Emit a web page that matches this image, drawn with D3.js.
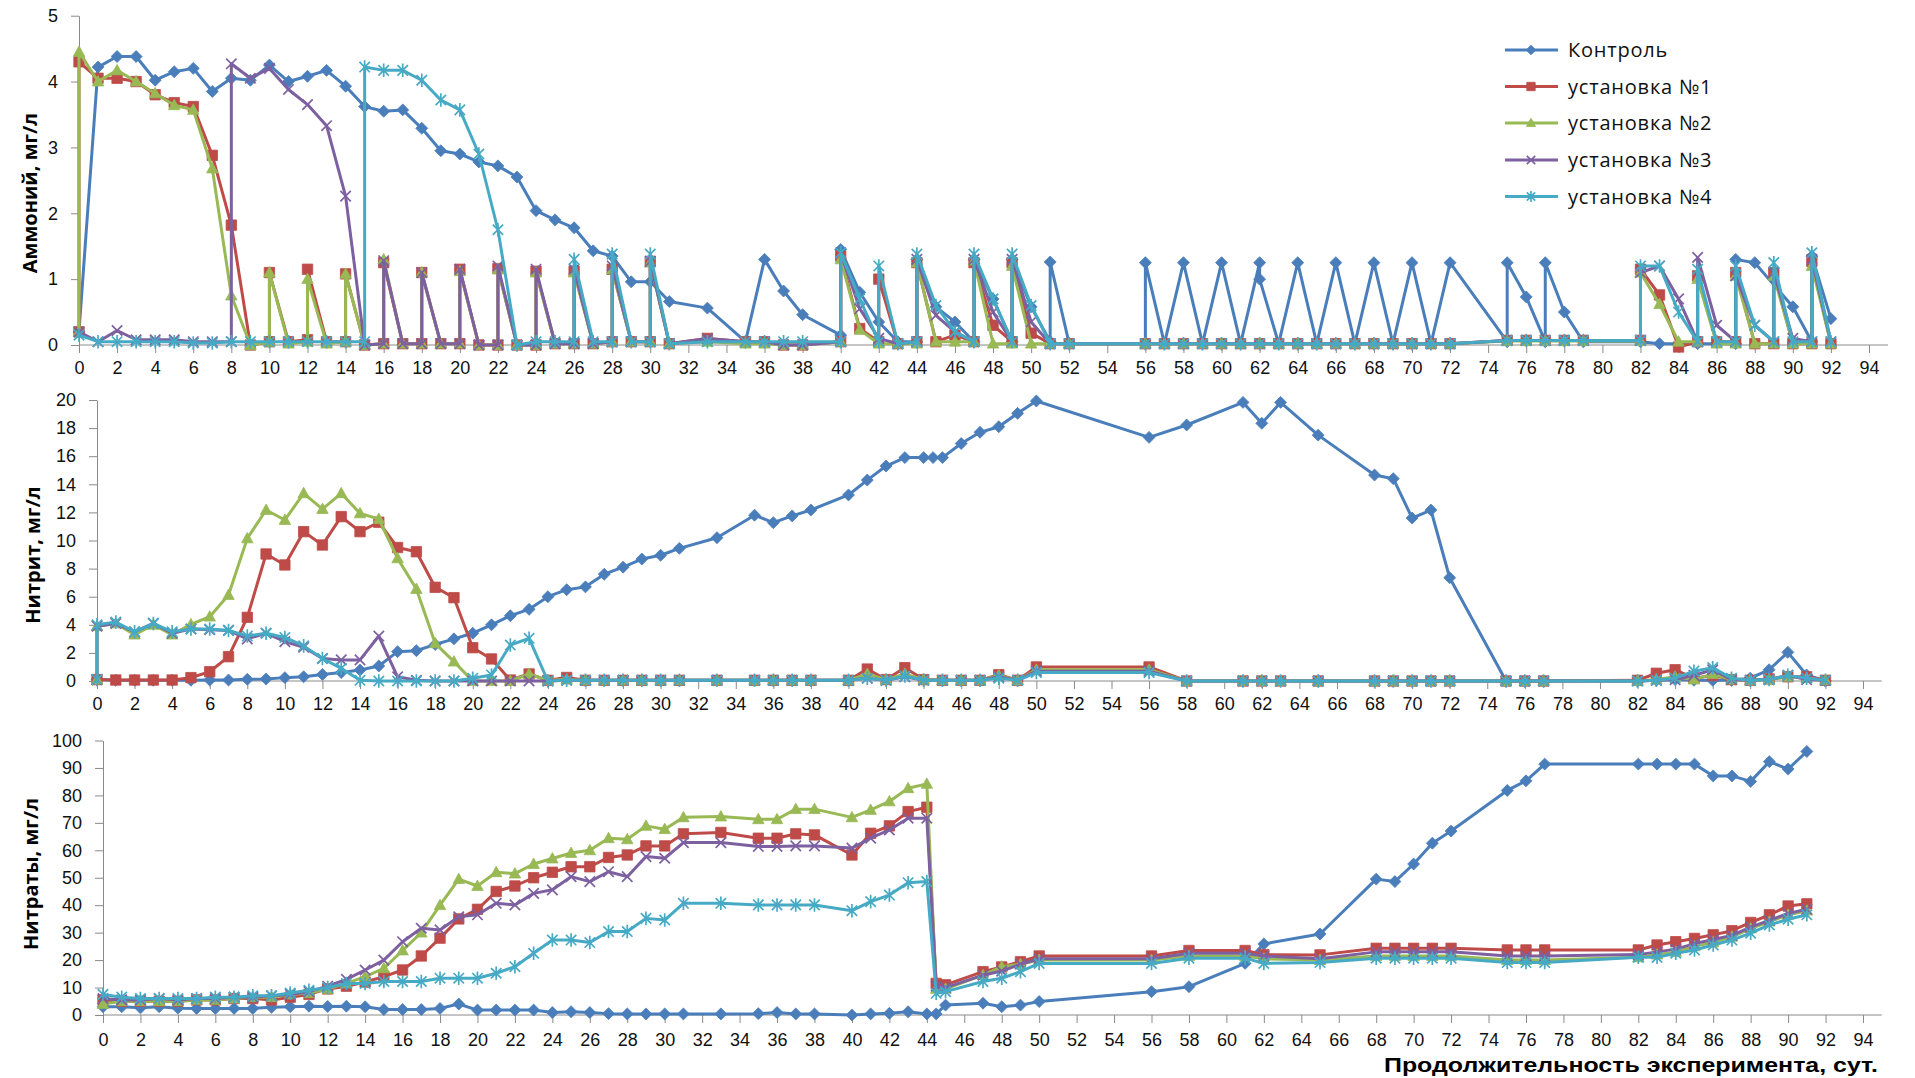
<!DOCTYPE html>
<html>
<head>
<meta charset="utf-8">
<script src="https://cdn.jsdelivr.net/npm/d3@7"></script>
<style>
  html, body { margin: 0; padding: 0; background: #fff; }
  svg { display: block; font-family: "Open Sans", "Noto Sans", "DejaVu Sans", sans-serif; }
</style>
</head>
<body>
<svg id="chart" width="1915" height="1078"></svg>
<script>
// ---------- series names and day ticks ----------
const seriesNames = ["Контроль", "установка №1", "установка №2", "установка №3", "установка №4"];
const dayTicks = [0,2,4,6,8,10,12,14,16,18,20,22,24,26,28,30,32,34,36,38,40,42,44,46,48,50,52,54,56,58,60,62,64,66,68,70,72,74,76,78,80,82,84,86,88,90,92,94];
const ammTicks = [0,1,2,3,4,5];
const nitriteTicks = [0,2,4,6,8,10,12,14,16,18,20];
const nitrateTicks = [0,10,20,30,40,50,60,70,80,90,100];

// ---------- ammonium, mg/l : [day, value] ----------
const ammKontrol = [[0,0.2],[1,4.22],[2,4.38],[3,4.38],[4,4.02],[5,4.15],[6,4.2],[7,3.85],[8,4.05],[9,4.02],[10,4.25],[11,4.0],[12,4.08],[13,4.17],[14,3.93],[15,3.62],[16,3.55],[17,3.57],[18,3.29],[19,2.95],[20,2.9],[21,2.78],[22,2.72],[23,2.55],[24,2.04],[25,1.9],[26,1.78],[27,1.43],[28,1.35],[29,0.96],[30,0.96],[31,0.66],[33,0.56],[35,0.05],[36,1.3],[37,0.82],[38,0.46],[40,0.15],[40,1.45],[41,0.8],[42,0.35],[43,0.05],[44,0.05],[44,1.3],[45,0.58],[46,0.35],[47,0.05],[47,1.3],[48,0.7],[49,0.05],[49,1.3],[50,0.58],[51,0.05],[51,1.26],[52,0.02],[56,0.02],[56,1.25],[57,0.02],[58,1.25],[59,0.02],[60,1.25],[61,0.02],[62,1.25],[62,1.0],[63,0.02],[64,1.25],[65,0.02],[66,1.25],[67,0.02],[68,1.25],[69,0.02],[70,1.25],[71,0.02],[72,1.25],[75,0.05],[75,1.25],[76,0.73],[77,0.05],[77,1.25],[78,0.5],[79,0.05],[82,0.05],[83,0.02],[85,0.02],[87,0.02],[87,1.3],[88,1.25],[90,0.58],[91,0.05],[91,1.35],[92,0.4]];
const amm1 = [[0,0.2],[0,4.3],[1,4.05],[2,4.05],[3,4.0],[4,3.8],[5,3.68],[6,3.62],[7,2.88],[8,1.82],[9,0.0],[10,0.05],[10,1.1],[11,0.05],[12,0.08],[12,1.15],[13,0.05],[14,0.05],[14,1.08],[15,0.0],[16,0.02],[16,1.25],[17,0.02],[18,0.02],[18,1.1],[19,0.02],[20,0.02],[20,1.15],[21,0.0],[22,0.0],[22,1.16],[23,0.0],[24,0.0],[24,1.12],[25,0.02],[26,0.02],[26,1.12],[27,0.02],[28,0.05],[28,1.15],[29,0.05],[30,0.05],[30,1.27],[31,0.02],[33,0.1],[35,0.05],[36,0.05],[37,0.0],[38,0.0],[40,0.05],[40,1.35],[41,0.25],[42,0.05],[42,1.0],[43,0.02],[44,0.05],[44,1.25],[45,0.05],[46,0.15],[47,0.05],[47,1.25],[48,0.3],[49,0.05],[49,1.25],[50,0.18],[51,0.02],[52,0.02],[56,0.02],[57,0.02],[58,0.02],[59,0.02],[60,0.02],[61,0.02],[62,0.02],[63,0.02],[64,0.02],[65,0.02],[66,0.02],[67,0.02],[68,0.02],[69,0.02],[70,0.02],[71,0.02],[72,0.02],[75,0.07],[76,0.07],[77,0.07],[78,0.07],[79,0.07],[82,0.07],[82,1.15],[83,0.76],[84,-0.03],[85,0.05],[85,1.05],[86,0.05],[87,0.05],[87,1.1],[88,0.02],[89,0.02],[89,1.1],[90,0.02],[91,0.02],[91,1.27],[92,0.02]];
const amm2 = [[0,0.2],[0,4.45],[1,4.0],[2,4.17],[3,4.0],[4,3.82],[5,3.64],[6,3.57],[7,2.68],[8,0.75],[9,0.0],[10,0.05],[10,1.1],[11,0.02],[12,0.05],[12,1.0],[13,0.02],[14,0.05],[14,1.08],[15,0.0],[16,0.02],[16,1.3],[17,0.02],[18,0.02],[18,1.1],[19,0.02],[20,0.02],[20,1.12],[21,0.0],[22,0.0],[22,1.15],[23,0.0],[24,0.0],[24,1.1],[25,0.02],[26,0.02],[26,1.1],[27,0.02],[28,0.05],[28,1.15],[29,0.05],[30,0.05],[30,1.25],[31,0.02],[33,0.05],[35,0.02],[36,0.02],[37,0.0],[38,0.0],[40,0.05],[40,1.3],[41,0.23],[42,0.02],[43,0.02],[44,0.02],[44,1.25],[45,0.05],[46,0.05],[47,0.05],[47,1.28],[48,0.02],[49,0.02],[49,1.2],[50,0.02],[51,0.02],[52,0.02],[56,0.02],[57,0.02],[58,0.02],[59,0.02],[60,0.02],[61,0.02],[62,0.02],[63,0.02],[64,0.02],[65,0.02],[66,0.02],[67,0.02],[68,0.02],[69,0.02],[70,0.02],[71,0.02],[72,0.02],[75,0.06],[76,0.06],[77,0.06],[78,0.06],[79,0.06],[82,0.06],[82,1.1],[83,0.62],[84,0.05],[85,0.05],[85,1.0],[86,0.02],[87,0.02],[87,1.05],[88,0.02],[89,0.02],[89,1.05],[90,0.02],[91,0.02],[91,1.2],[92,0.02]];
const amm3 = [[0,0.2],[1,0.05],[2,0.22],[3,0.08],[4,0.08],[5,0.08],[6,0.05],[7,0.05],[8,0.05],[8,4.27],[9,4.05],[10,4.2],[11,3.88],[12,3.65],[13,3.33],[14,2.26],[15,0.0],[16,0.02],[16,1.28],[17,0.02],[18,0.02],[18,1.1],[19,0.02],[20,0.02],[20,1.15],[21,0.0],[22,0.0],[22,1.2],[23,0.0],[24,0.0],[24,1.15],[25,0.02],[26,0.02],[26,1.15],[27,0.02],[28,0.05],[28,1.2],[29,0.05],[30,0.05],[30,1.27],[31,0.02],[33,0.1],[35,0.05],[36,0.05],[37,0.0],[38,0.0],[40,0.05],[40,1.4],[41,0.55],[42,0.1],[43,0.02],[44,0.05],[44,1.3],[45,0.45],[46,0.2],[47,0.05],[47,1.3],[48,0.5],[49,0.05],[49,1.3],[50,0.35],[51,0.02],[52,0.02],[56,0.02],[57,0.02],[58,0.02],[59,0.02],[60,0.02],[61,0.02],[62,0.02],[63,0.02],[64,0.02],[65,0.02],[66,0.02],[67,0.02],[68,0.02],[69,0.02],[70,0.02],[71,0.02],[72,0.02],[75,0.07],[76,0.07],[77,0.07],[78,0.07],[79,0.07],[82,0.07],[82,1.1],[83,1.2],[84,0.7],[85,0.05],[85,1.33],[86,0.3],[87,0.05],[87,1.05],[88,0.3],[89,0.05],[89,1.1],[90,0.1],[91,0.05],[91,1.3],[92,0.05]];
const amm4 = [[0,0.15],[1,0.05],[2,0.05],[3,0.05],[4,0.05],[5,0.05],[6,0.03],[7,0.03],[8,0.05],[9,0.05],[10,0.05],[11,0.05],[12,0.05],[13,0.05],[14,0.05],[15,0.05],[15,4.22],[16,4.17],[17,4.17],[18,4.02],[19,3.72],[20,3.57],[21,2.9],[22,1.75],[23,0.0],[24,0.05],[25,0.05],[26,0.05],[26,1.3],[27,0.05],[28,0.05],[28,1.38],[29,0.05],[30,0.05],[30,1.38],[31,0.02],[33,0.05],[35,0.05],[36,0.05],[37,0.05],[38,0.05],[40,0.05],[40,1.4],[41,0.7],[42,0.05],[42,1.2],[43,0.02],[44,0.05],[44,1.38],[45,0.6],[46,0.2],[47,0.05],[47,1.38],[48,0.7],[49,0.05],[49,1.38],[50,0.6],[51,0.02],[52,0.02],[56,0.02],[57,0.02],[58,0.02],[59,0.02],[60,0.02],[61,0.02],[62,0.02],[63,0.02],[64,0.02],[65,0.02],[66,0.02],[67,0.02],[68,0.02],[69,0.02],[70,0.02],[71,0.02],[72,0.02],[75,0.07],[76,0.07],[77,0.07],[78,0.07],[79,0.07],[82,0.07],[82,1.2],[83,1.2],[84,0.5],[85,0.05],[85,1.15],[86,0.05],[87,0.05],[87,1.2],[88,0.3],[89,0.05],[89,1.25],[90,0.05],[91,0.05],[91,1.4],[92,0.05]];

// ---------- nitrite, mg/l ----------
const nitKontrol = [[0,0.1],[1,0.05],[2,0.05],[3,0.05],[4,0.05],[5,0.05],[6,0.07],[7,0.07],[8,0.12],[9,0.14],[10,0.24],[11,0.3],[12,0.47],[13,0.6],[14,0.78],[15,1.07],[16,2.09],[17,2.16],[18,2.6],[19,3.0],[20,3.4],[21,4.0],[22,4.65],[23,5.1],[24,6.0],[25,6.5],[26,6.7],[27,7.6],[28,8.1],[29,8.68],[30,8.95],[31,9.44],[33,10.2],[35,11.8],[36,11.27],[37,11.75],[38,12.17],[40,13.24],[41,14.3],[42,15.3],[43,15.9],[44,15.9],[44.5,15.9],[45,15.9],[46,16.9],[47,17.7],[48,18.1],[49,19.05],[50,19.93],[56,17.34],[58,18.22],[61,19.83],[62,18.34],[63,19.83],[65,17.5],[68,14.66],[69,14.4],[70,11.6],[71,12.17],[72,7.35],[75,0],[76,0],[77,0],[82,0],[83,0.05],[84,0.1],[85,0.05],[86,0.05],[87,0.05],[88,0.2],[89,0.8],[90,2.04],[91,0.43],[92,0.0]];
const nit1 = [[0,0.1],[1,0.07],[2,0.07],[3,0.07],[4,0.07],[5,0.24],[6,0.66],[7,1.73],[8,4.53],[9,9.04],[10,8.26],[11,10.63],[12,9.68],[13,11.7],[14,10.63],[15,11.3],[16,9.5],[17,9.2],[18,6.67],[19,5.93],[20,2.37],[21,1.57],[22,0.07],[23,0.5],[24,0.05],[25,0.25],[26,0.05],[27,0.05],[28,0.05],[29,0.05],[30,0.05],[31,0.05],[33,0.05],[35,0.05],[36,0.05],[37,0.05],[38,0.05],[40,0.05],[41,0.85],[42,0.1],[43,0.95],[44,0.1],[45,0.05],[46,0.05],[47,0.05],[48,0.45],[49,0.05],[50,1.0],[56,1.0],[58,0.0],[61,0.0],[62,0.0],[63,0.0],[65,0.0],[68,0.0],[69,0.0],[70,0.0],[71,0.0],[72,0.0],[75,0.0],[76,0.0],[77,0.0],[82,0.05],[83,0.55],[84,0.8],[85,0.2],[86,0.4],[87,0.1],[88,0.05],[89,0.15],[90,0.3],[91,0.3],[92,0.05]];
const nit2 = [[0,0.1],[0,3.9],[1,4.1],[2,3.3],[3,4.0],[4,3.3],[5,4.03],[6,4.58],[7,6.12],[8,10.15],[9,12.17],[10,11.46],[11,13.36],[12,12.24],[13,13.36],[14,11.93],[15,11.53],[16,8.73],[17,6.55],[18,2.68],[19,1.38],[20,0.0],[21,0.0],[22,0.0],[23,0.5],[24,0.05],[25,0.1],[26,0.05],[27,0.05],[28,0.05],[29,0.05],[30,0.05],[31,0.05],[33,0.05],[35,0.05],[36,0.05],[37,0.05],[38,0.05],[40,0.05],[41,0.5],[42,0.1],[43,0.5],[44,0.1],[45,0.05],[46,0.05],[47,0.05],[48,0.4],[49,0.05],[50,0.8],[56,0.8],[58,0.0],[61,0.0],[62,0.0],[63,0.0],[65,0.0],[68,0.0],[69,0.0],[70,0.0],[71,0.0],[72,0.0],[75,0.0],[76,0.0],[77,0.0],[82,0.0],[83,0.1],[84,0.3],[85,0.1],[86,0.5],[87,0.1],[88,0.05],[89,0.1],[90,0.3],[91,0.2],[92,0.05]];
const nit3 = [[0,0.1],[0,3.9],[1,4.1],[2,3.5],[3,4.1],[4,3.4],[5,3.7],[6,3.65],[7,3.6],[8,3.0],[9,3.4],[10,2.8],[11,2.4],[12,1.6],[13,1.5],[14,1.5],[15,3.2],[16,0.3],[17,0.05],[18,0.0],[19,0.0],[20,0.0],[21,0.0],[22,0.0],[23,0.0],[24,0.0],[25,0.05],[26,0.05],[27,0.05],[28,0.05],[29,0.05],[30,0.05],[31,0.05],[33,0.05],[35,0.05],[36,0.05],[37,0.05],[38,0.05],[40,0.05],[41,0.2],[42,0.05],[43,0.3],[44,0.05],[45,0.05],[46,0.05],[47,0.05],[48,0.3],[49,0.05],[50,0.7],[56,0.7],[58,0.0],[61,0.0],[62,0.0],[63,0.0],[65,0.0],[68,0.0],[69,0.0],[70,0.0],[71,0.0],[72,0.0],[75,0.0],[76,0.0],[77,0.0],[82,0.0],[83,0.05],[84,0.1],[85,0.4],[86,0.8],[87,0.1],[88,0.05],[89,0.1],[90,0.4],[91,0.1],[92,0.05]];
const nit4 = [[0,0.1],[0,4.0],[1,4.2],[2,3.5],[3,4.1],[4,3.5],[5,3.7],[6,3.7],[7,3.6],[8,3.2],[9,3.4],[10,3.1],[11,2.5],[12,1.6],[13,0.9],[14,0.05],[15,0.0],[16,0.0],[17,0.0],[18,0.0],[19,0.0],[20,0.2],[21,0.43],[22,2.56],[23,3.04],[24,0.0],[25,0.05],[26,0.05],[27,0.05],[28,0.05],[29,0.05],[30,0.05],[31,0.05],[33,0.05],[35,0.05],[36,0.05],[37,0.05],[38,0.05],[40,0.05],[41,0.2],[42,0.05],[43,0.35],[44,0.05],[45,0.05],[46,0.05],[47,0.05],[48,0.2],[49,0.05],[50,0.6],[56,0.6],[58,0.0],[61,0.0],[62,0.0],[63,0.0],[65,0.0],[68,0.0],[69,0.0],[70,0.0],[71,0.0],[72,0.0],[75,0.0],[76,0.0],[77,0.0],[82,0.0],[83,0.05],[84,0.2],[85,0.7],[86,0.95],[87,0.2],[88,0.05],[89,0.1],[90,0.4],[91,0.2],[92,0.05]];

// ---------- nitrate, mg/l ----------
const ntrKontrol = [[0,3.0],[1,3.0],[2,2.6],[3,3.0],[4,2.5],[5,2.4],[6,2.4],[7,2.4],[8,2.4],[9,2.8],[10,3.0],[11,3.2],[12,3.1],[13,3.2],[14,3.0],[15,2.0],[16,2.0],[17,2.0],[18,2.4],[19,4.0],[20,1.8],[21,1.8],[22,1.8],[23,1.8],[24,0.9],[25,1.2],[26,0.9],[27,0.5],[28,0.4],[29,0.4],[30,0.4],[31,0.4],[33,0.4],[35,0.5],[36,0.9],[37,0.4],[38,0.4],[40,0.0],[41,0.4],[42,0.6],[43,1.2],[44,0.4],[44.5,0.4],[45,3.6],[47,4.3],[48,3.0],[49,3.6],[50,4.9],[56,8.5],[58,10.3],[61,18.8],[62,25.9],[65,29.5],[68,49.5],[69,48.6],[70,55.0],[71,62.6],[72,67.0],[75,81.8],[76,85.3],[77,91.4],[82,91.4],[83,91.4],[84,91.4],[85,91.4],[86,87.1],[87,87.1],[88,85.1],[89,92.3],[90,89.6],[91,96.0]];
const ntr1 = [[0,5.5],[1,5.0],[2,5.0],[3,5.0],[4,5.0],[5,5.5],[6,5.5],[7,6.0],[8,6.0],[9,5.5],[10,6.5],[11,7.5],[12,9.5],[13,10.5],[14,12.0],[15,14.0],[16,16.4],[17,21.5],[18,28.0],[19,35.0],[20,38.5],[21,45.0],[22,47.0],[23,50.0],[24,52.0],[25,54.0],[26,54.0],[27,57.4],[28,58.3],[29,61.6],[30,61.6],[31,66.0],[33,66.5],[35,64.4],[36,64.4],[37,66.0],[38,65.6],[40,58.3],[41,66.2],[42,68.9],[43,74.1],[44,75.7],[44.5,11.5],[45,11.0],[47,15.8],[48,17.5],[49,19.4],[50,21.5],[56,21.5],[58,23.5],[61,23.5],[62,22.0],[65,21.9],[68,24.3],[69,24.3],[70,24.3],[71,24.3],[72,24.3],[75,23.7],[76,23.7],[77,23.7],[82,23.7],[83,25.5],[84,26.7],[85,27.9],[86,29.2],[87,30.7],[88,33.7],[89,36.5],[90,39.7],[91,40.5]];
const ntr2 = [[0,4.0],[1,5.0],[2,5.0],[3,5.0],[4,5.0],[5,5.5],[6,5.5],[7,6.0],[8,6.5],[9,6.5],[10,7.5],[11,8.0],[12,9.5],[13,11.5],[14,14.0],[15,17.0],[16,23.5],[17,30.0],[18,40.0],[19,49.5],[20,47.0],[21,52.0],[22,51.5],[23,55.0],[24,57.0],[25,59.0],[26,60.0],[27,64.4],[28,64.0],[29,68.9],[30,67.7],[31,72.0],[33,72.3],[35,71.3],[36,71.3],[37,75.0],[38,75.0],[40,72.0],[41,74.7],[42,77.8],[43,82.6],[44,84.2],[44.5,9.5],[45,9.5],[47,14.5],[48,17.6],[49,18.5],[50,20.0],[56,20.0],[58,21.5],[61,21.5],[62,20.5],[65,20.0],[68,21.5],[69,21.5],[70,21.5],[71,21.5],[72,21.5],[75,20.0],[76,20.0],[77,20.0],[82,21.0],[83,22.0],[84,23.0],[85,25.0],[86,26.5],[87,28.5],[88,31.5],[89,34.0],[90,36.5],[91,38.0]];
const ntr3 = [[0,6.0],[1,5.5],[2,5.5],[3,6.0],[4,5.5],[5,6.0],[6,6.0],[7,6.5],[8,6.5],[9,7.0],[10,7.5],[11,8.5],[12,10.5],[13,13.0],[14,16.4],[15,20.0],[16,26.7],[17,31.6],[18,31.0],[19,35.8],[20,36.5],[21,40.7],[22,40.1],[23,44.3],[24,45.6],[25,50.4],[26,48.6],[27,52.2],[28,50.4],[29,57.7],[30,57.1],[31,62.8],[33,62.8],[35,61.4],[36,61.4],[37,61.6],[38,61.6],[40,60.8],[41,64.4],[42,67.4],[43,71.7],[44,71.7],[44.5,10.5],[45,10.0],[47,14.5],[48,16.0],[49,18.5],[50,20.5],[56,20.5],[58,22.5],[61,22.5],[62,21.5],[65,20.5],[68,23.0],[69,23.0],[70,23.0],[71,23.0],[72,23.0],[75,21.5],[76,21.5],[77,21.5],[82,22.0],[83,23.0],[84,24.0],[85,26.0],[86,27.5],[87,29.0],[88,32.0],[89,34.5],[90,37.0],[91,38.5]];
const ntr4 = [[0,7.5],[1,6.5],[2,6.0],[3,6.0],[4,6.0],[5,6.0],[6,6.5],[7,6.5],[8,7.0],[9,7.0],[10,8.0],[11,9.0],[12,10.0],[13,11.5],[14,11.5],[15,12.2],[16,12.2],[17,12.2],[18,13.4],[19,13.4],[20,13.4],[21,15.2],[22,17.6],[23,22.5],[24,27.3],[25,27.3],[26,26.4],[27,30.4],[28,30.4],[29,35.2],[30,34.6],[31,40.7],[33,40.7],[35,40.1],[36,40.1],[37,40.1],[38,40.1],[40,38.0],[41,41.3],[42,43.7],[43,48.2],[44,48.6],[44.5,7.9],[45,8.5],[47,12.2],[48,13.4],[49,15.8],[50,18.8],[56,18.8],[58,20.7],[61,20.7],[62,18.8],[65,19.1],[68,20.7],[69,20.7],[70,20.7],[71,20.7],[72,20.7],[75,19.1],[76,19.1],[77,19.1],[82,21.0],[83,21.0],[84,22.5],[85,23.7],[86,25.5],[87,27.3],[88,29.8],[89,32.8],[90,34.9],[91,36.5]];

// ---------- styling ----------
const colors = ["#4A7EBB", "#BE4B48", "#98B954", "#7D60A0", "#46AAC5"];
const markerTypes = ["diamond", "square", "triangle", "x", "star"];
const axisColor = "#8a8a8a";

// panel geometry (pixel placement of each plot area)
const panels = [
  { series: [ammKontrol, amm1, amm2, amm3, amm4], yTicks: ammTicks, yMax: 5,
    title: "Аммоний, мг/л", x0: 79, x94: 1869, yTop: 15.7, yBottom: 345,
    titleX: 30, titleY: 193, xPad: 8 },
  { series: [nitKontrol, nit1, nit2, nit3, nit4], yTicks: nitriteTicks, yMax: 20,
    title: "Нитрит, мг/л", x0: 97, x94: 1863, yTop: 400, yBottom: 681,
    titleX: 33, titleY: 555, xPad: 8 },
  { series: [ntrKontrol, ntr1, ntr2, ntr3, ntr4], yTicks: nitrateTicks, yMax: 100,
    title: "Нитраты, мг/л", x0: 103, x94: 1863, yTop: 740.5, yBottom: 1015,
    titleX: 31, titleY: 874, xPad: 10 }
];

const svg = d3.select("#chart");

function markerPath(type, s) {
  switch (type) {
    case "diamond":  return `M0,${-s*1.15}L${s*1.15},0L0,${s*1.15}L${-s*1.15},0Z`;
    case "square":   return `M${-s},${-s}H${s}V${s}H${-s}Z`;
    case "triangle": return `M0,${-s*1.15}L${s*1.1},${s*0.85}L${-s*1.1},${s*0.85}Z`;
    case "x":        return `M${-s},${-s}L${s},${s}M${-s},${s}L${s},${-s}`;
    case "star":     return `M${-s},${-s}L${s},${s}M${-s},${s}L${s},${-s}M0,${-s*1.3}V${s*1.3}`;
  }
}
function styleMarker(sel, type, color) {
  if (type === "x" || type === "star") {
    sel.attr("fill", "none").attr("stroke", color).attr("stroke-width", 1.7);
  } else {
    sel.attr("fill", color).attr("stroke", color).attr("stroke-width", 0.8);
  }
}

panels.forEach(p => {
  const x = d3.scaleLinear().domain([0, 94]).range([p.x0, p.x94]);
  const xEnd = x(95);
  const y = d3.scaleLinear().domain([0, p.yMax]).range([p.yBottom, p.yTop]);
  const g = svg.append("g");

  // x axis
  const xAxis = d3.axisBottom(x).tickValues(dayTicks).tickSize(8).tickSizeOuter(0).tickPadding(p.xPad);
  const gx = g.append("g").attr("transform", `translate(0,${p.yBottom})`).call(xAxis);
  gx.select(".domain").attr("d", `M${p.x0},0H${xEnd}`);
  gx.selectAll("path,line").attr("stroke", axisColor);
  gx.selectAll("text").attr("font-size", 18).attr("fill", "#111").attr("font-family", null);

  // y axis
  const yAxis = d3.axisLeft(y).tickValues(p.yTicks).tickFormat(d3.format("d"))
    .tickSize(8).tickSizeOuter(0).tickPadding(13);
  const gy = g.append("g").attr("transform", `translate(${p.x0},0)`).call(yAxis);
  gy.selectAll("path,line").attr("stroke", axisColor);
  gy.selectAll("text").attr("font-size", 18).attr("fill", "#111").attr("font-family", null);

  // y title
  g.append("text")
    .attr("transform", `translate(${p.titleX},${p.titleY}) rotate(-90)`)
    .attr("text-anchor", "middle").attr("dy", "0.35em")
    .attr("font-size", 20).attr("font-weight", 700).attr("fill", "#000")
    .text(p.title);

  // series: line then markers, in series order
  const line = d3.line().x(d => x(d[0])).y(d => y(d[1]));
  p.series.forEach((data, i) => {
    g.append("path").datum(data)
      .attr("d", line)
      .attr("fill", "none")
      .attr("stroke", colors[i])
      .attr("stroke-width", 3)
      .attr("stroke-linejoin", "round");
    const m = g.append("g").selectAll("path").data(data).join("path")
      .attr("transform", d => `translate(${x(d[0])},${y(d[1])})`)
      .attr("d", markerPath(markerTypes[i], 5.2));
    styleMarker(m, markerTypes[i], colors[i]);
  });
});

// x-axis title under the bottom panel
svg.append("text")
  .attr("x", 1878).attr("y", 1072)
  .attr("text-anchor", "end")
  .attr("font-family", "'Liberation Sans', Arial, sans-serif")
  .attr("font-size", 21).attr("font-weight", 700).attr("fill", "#000")
  .attr("textLength", 494).attr("lengthAdjust", "spacingAndGlyphs")
  .text("Продолжительность эксперимента, сут.");

// legend
const legendRows = [50, 86.5, 123, 160, 196.5];
const legend = svg.append("g");
seriesNames.forEach((name, i) => {
  const row = legend.append("g").attr("transform", `translate(0,${legendRows[i]})`);
  row.append("line").attr("x1", 1505).attr("x2", 1558).attr("y1", 0).attr("y2", 0)
    .attr("stroke", colors[i]).attr("stroke-width", 3);
  const mk = row.append("path").attr("transform", "translate(1531,0)")
    .attr("d", markerPath(markerTypes[i], 4.2));
  styleMarker(mk, markerTypes[i], colors[i]);
  row.append("text").attr("x", 1568).attr("y", 0).attr("dy", "0.35em")
    .attr("font-size", 20).attr("letter-spacing", 0.8).attr("fill", "#111").text(name);
});
</script>
</body>
</html>
